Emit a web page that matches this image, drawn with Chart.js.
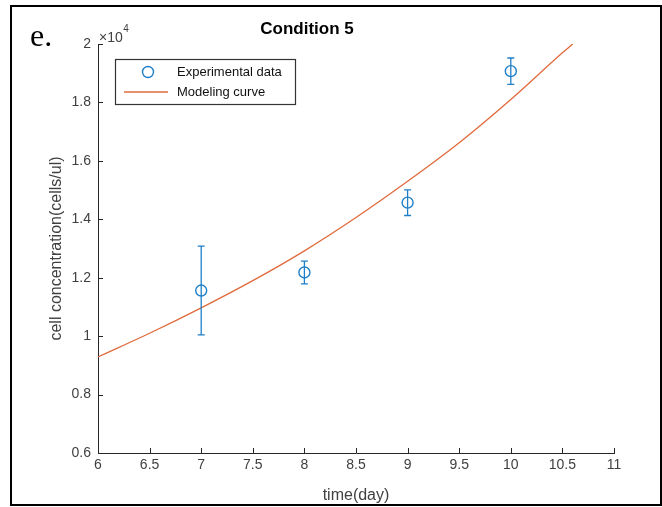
<!DOCTYPE html>
<html>
<head>
<meta charset="utf-8">
<title>Condition 5</title>
<script src="https://cdn.jsdelivr.net/npm/chart.js@4.4.1/dist/chart.umd.min.js"></script>
<style>
  html, body { margin: 0; padding: 0; background: #fff; }
  canvas { display: block; }
</style>
</head>
<body>
<canvas id="cellChart" width="662" height="507"></canvas>
<script>
// measured points (cells/ul) and their error bars
const days = [7, 8, 9, 10];
const meanConc = [11560, 12180, 14570, 19070];
const errConc = [1520, 390, 440, 450];

// modeling curve
const curveDays = [6, 6.5, 7, 7.5, 8, 8.5, 9, 9.5, 10, 10.5, 10.6];
const curveConc = [9290, 10100, 10970, 11900, 12920, 14060, 15300, 16620, 18100, 19700, 20000];

// tick positions
const xTicks = [6, 6.5, 7, 7.5, 8, 8.5, 9, 9.5, 10, 10.5, 11];
const yTicks = [6000, 8000, 10000, 12000, 14000, 16000, 18000, 20000];

const BLUE = '#1f7fc8';
const ORANGE = '#e06a3c';
const AXIS = '#262626';
const LABEL = '#404040';
const FONT = '"Liberation Sans", Arial, Helvetica, sans-serif';

// matlab-ish extras: white bg, error bars, inward ticks, boxed legend, x10^4, frame
const figurePlugin = {
  id: 'figure',
  beforeDraw(chart) {
    const c = chart.ctx;
    c.save();
    c.fillStyle = '#fff';
    c.fillRect(0, 0, chart.width, chart.height);
    c.restore();
  },
  afterDatasetsDraw(chart) {
    const c = chart.ctx, x = chart.scales.x, y = chart.scales.y;
    c.save();
    c.strokeStyle = BLUE;
    c.lineWidth = 1.3;
    days.forEach((d, i) => {
      const px = x.getPixelForValue(d);
      const top = y.getPixelForValue(meanConc[i] + errConc[i]);
      const bot = y.getPixelForValue(meanConc[i] - errConc[i]);
      c.beginPath();
      c.moveTo(px, top); c.lineTo(px, bot);
      c.moveTo(px - 3.5, top); c.lineTo(px + 3.5, top);
      c.moveTo(px - 3.5, bot); c.lineTo(px + 3.5, bot);
      c.stroke();
    });
    c.restore();
  },
  afterDraw(chart) {
    const c = chart.ctx, area = chart.chartArea, x = chart.scales.x, y = chart.scales.y;
    c.save();

    // ticks pointing inside
    c.strokeStyle = AXIS;
    c.lineWidth = 1;
    c.beginPath();
    x.ticks.forEach(t => {
      const px = Math.round(x.getPixelForValue(t.value)) + 0.5;
      c.moveTo(px, area.bottom); c.lineTo(px, area.bottom - 5);
    });
    y.ticks.forEach(t => {
      const py = Math.round(y.getPixelForValue(t.value)) + 0.5;
      c.moveTo(area.left, py); c.lineTo(area.left + 5, py);
    });
    c.stroke();

    // exponent label
    c.fillStyle = LABEL;
    c.textBaseline = 'alphabetic';
    c.textAlign = 'left';
    c.font = '14px ' + FONT;
    c.fillText('\u00d710', area.left + 1, area.top - 2);
    const w = c.measureText('\u00d710').width;
    c.font = '10px ' + FONT;
    c.fillText('4', area.left + 1 + w + 0.5, area.top - 12);

    // legend box
    const lx = area.left + 17, ly = area.top + 15;
    c.fillStyle = '#fff';
    c.fillRect(lx, ly, 180, 45);
    c.strokeStyle = '#333';
    c.lineWidth = 1.2;
    c.strokeRect(lx + 0.5, ly + 0.5, 180, 45);
    const ds = chart.data.datasets;
    c.strokeStyle = BLUE;
    c.lineWidth = 1.4;
    c.beginPath();
    c.arc(lx + 33, ly + 13, 5.5, 0, Math.PI * 2);
    c.stroke();
    c.strokeStyle = ORANGE;
    c.lineWidth = 1.3;
    c.beginPath();
    c.moveTo(lx + 9, ly + 33); c.lineTo(lx + 53, ly + 33);
    c.stroke();
    c.fillStyle = '#111';
    c.font = '13px ' + FONT;
    c.textBaseline = 'middle';
    c.fillText(ds[0].label, lx + 62, ly + 13);
    c.fillText(ds[1].label, lx + 62, ly + 33);

    // panel letter
    c.fillStyle = '#000';
    c.textBaseline = 'alphabetic';
    c.font = '32px "Liberation Serif", "Times New Roman", serif';
    c.fillText('e.', 30, 46);

    // outer frame
    c.strokeStyle = '#000';
    c.lineWidth = 2;
    c.strokeRect(11, 6, 650, 499);
    c.restore();
  }
};

const ctx = document.getElementById('cellChart').getContext('2d');

const config = {
  type: 'scatter',
  data: {
    datasets: [
      {
        label: 'Experimental data',
        data: days.map((d, i) => ({ x: d, y: meanConc[i] })),
        showLine: false,
        pointStyle: 'circle',
        pointRadius: 5.5,
        pointHoverRadius: 5.5,
        pointBorderWidth: 1.4,
        pointBorderColor: BLUE,
        pointBackgroundColor: 'rgba(0,0,0,0)'
      },
      {
        label: 'Modeling curve',
        data: curveDays.map((d, i) => ({ x: d, y: curveConc[i] })),
        showLine: true,
        borderColor: ORANGE,
        borderWidth: 1.3,
        pointRadius: 0,
        cubicInterpolationMode: 'monotone',
        fill: false
      }
    ]
  },
  options: {
    responsive: false,
    animation: false,
    events: [],
    layout: { padding: { left: 0, right: 48, top: 0, bottom: 0 } },
    scales: {
      x: {
        type: 'linear',
        min: 6,
        max: 11,
        afterBuildTicks: s => { s.ticks = xTicks.map(v => ({ value: v })); },
        afterFit: s => { s.height = 54; },
        ticks: {
          callback: v => String(v),
          font: { family: FONT, size: 14 },
          color: LABEL,
          padding: 4,
          maxRotation: 0,
          autoSkip: false
        },
        grid: { drawOnChartArea: false, drawTicks: false },
        border: { color: AXIS, width: 1 },
        title: {
          display: true,
          text: 'time(day)',
          font: { family: FONT, size: 16 },
          color: LABEL,
          padding: { top: 0, bottom: 2 }
        }
      },
      y: {
        type: 'linear',
        min: 6000,
        max: 20000,
        afterBuildTicks: s => { s.ticks = yTicks.map(v => ({ value: v })); },
        afterFit: s => { s.width = 98; },
        ticks: {
          callback: v => String(+(v / 1e4).toFixed(1)),
          font: { family: FONT, size: 14 },
          color: LABEL,
          padding: 7,
          autoSkip: false
        },
        grid: { drawOnChartArea: false, drawTicks: false },
        border: { color: AXIS, width: 1 },
        title: {
          display: true,
          text: 'cell concentration(cells/ul)',
          font: { family: FONT, size: 16 },
          color: LABEL,
          padding: { top: 47, bottom: 0 }
        }
      }
    },
    plugins: {
      legend: { display: false },
      tooltip: { enabled: false },
      title: {
        display: true,
        text: 'Condition 5',
        color: '#000',
        font: { family: FONT, size: 17, weight: 'bold' },
        padding: { top: 19, bottom: 4.6 }
      }
    }
  },
  plugins: [figurePlugin]
};

const myChart = new Chart(ctx, config);
</script>
</body>
</html>
